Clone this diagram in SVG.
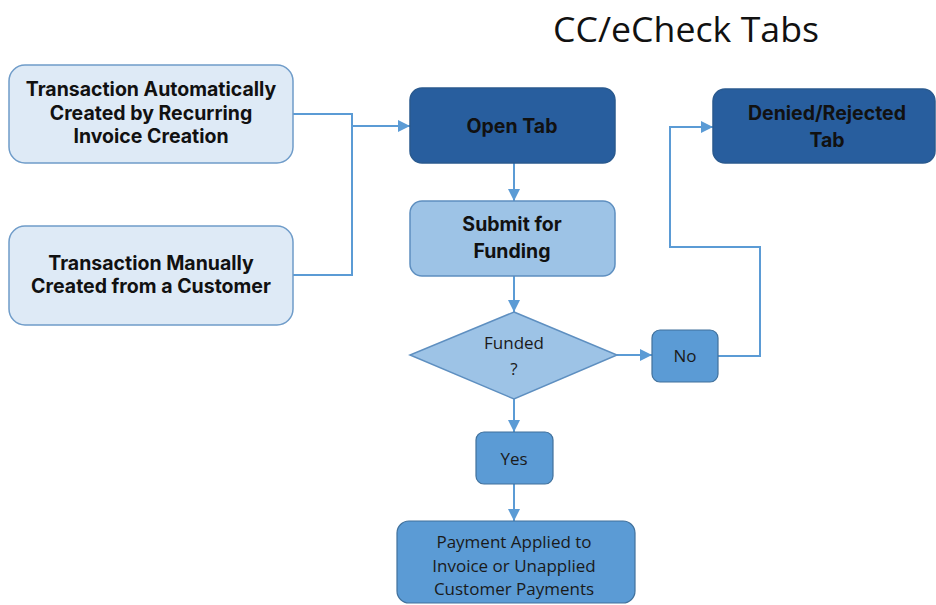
<svg xmlns="http://www.w3.org/2000/svg" width="936" height="605" viewBox="0 0 936 605">
  <defs>
    <marker id="arrow" viewBox="0 0 12 12" refX="12" refY="6" markerWidth="12" markerHeight="12" markerUnits="userSpaceOnUse" orient="auto">
      <path d="M0,0 L12,6 L0,12 Z" fill="#5b9bd5"/>
    </marker>
    <style>
      .pale { fill: #deeaf6; stroke: #6f9cc9; stroke-width: 1.5; }
      .dark { fill: #285e9e; stroke: #2a5a8f; stroke-width: 1.5; }
      .light { fill: #9dc3e6; stroke: #5e8fc0; stroke-width: 1.5; }
      .mid { fill: #5b9bd5; stroke: #41719c; stroke-width: 1.2; }
      .bold { font-family: Inter, "Noto Sans", "Liberation Sans", sans-serif; font-weight: 700; font-size: 19.5px; fill: #111; text-anchor: middle; }
      .reg { font-family: "Open Sans", "Liberation Sans", sans-serif; font-size: 17px; fill: #1a1a1a; text-anchor: middle; }
      .wire { fill: none; stroke: #5b9bd5; stroke-width: 2; }
    </style>
  </defs>

  <rect width="936" height="605" fill="#ffffff"/>

  <text x="686" y="42" font-family="'Open Sans', 'Liberation Sans', sans-serif" font-size="35" fill="#111" text-anchor="middle" textLength="266" lengthAdjust="spacingAndGlyphs">CC/eCheck Tabs</text>

  <g id="connectors">
    <path class="wire" d="M293,114 H352 V275 H293"/>
    <path class="wire" d="M352,126 H410" marker-end="url(#arrow)"/>
    <path class="wire" d="M514,163 V201" marker-end="url(#arrow)"/>
    <path class="wire" d="M514,276 V312" marker-end="url(#arrow)"/>
    <path class="wire" d="M617,355 H652" marker-end="url(#arrow)"/>
    <path class="wire" d="M718,356 H760 V247 H670 V127 H713" marker-end="url(#arrow)"/>
    <path class="wire" d="M514,399 V432" marker-end="url(#arrow)"/>
    <path class="wire" d="M514,484 V521" marker-end="url(#arrow)"/>
  </g>

  <g id="auto-created">
    <rect class="pale" x="9" y="65" width="284" height="98" rx="16"/>
    <text class="bold" x="151" y="96">Transaction Automatically</text>
    <text class="bold" x="151" y="120">Created by Recurring</text>
    <text class="bold" x="151" y="143">Invoice Creation</text>
  </g>

  <g id="manual-created">
    <rect class="pale" x="9" y="226" width="284" height="99" rx="16"/>
    <text class="bold" x="151" y="270">Transaction Manually</text>
    <text class="bold" x="151" y="293">Created from a Customer</text>
  </g>

  <g id="open-tab">
    <rect class="dark" x="410" y="88" width="205" height="75" rx="12"/>
    <text class="bold" x="512" y="133">Open Tab</text>
  </g>

  <g id="denied-tab">
    <rect class="dark" x="713" y="89" width="222" height="74" rx="12"/>
    <text class="bold" x="827" y="120">Denied/Rejected</text>
    <text class="bold" x="827" y="147">Tab</text>
  </g>

  <g id="submit-funding">
    <rect class="light" x="410" y="201" width="205" height="75" rx="12"/>
    <text class="bold" x="512" y="231">Submit for</text>
    <text class="bold" x="512" y="258">Funding</text>
  </g>

  <g id="funded-decision">
    <polygon class="light" points="514,312 617,355 514,399 410,355"/>
    <text class="reg" x="514" y="349">Funded</text>
    <text class="reg" x="514" y="375">?</text>
  </g>

  <g id="no">
    <rect class="mid" x="652" y="330" width="66" height="52" rx="8"/>
    <text class="reg" x="685" y="362">No</text>
  </g>

  <g id="yes">
    <rect class="mid" x="476" y="432" width="77" height="52" rx="8"/>
    <text class="reg" x="514" y="465">Yes</text>
  </g>

  <g id="payment-applied">
    <rect class="mid" x="397" y="521" width="238" height="82" rx="12"/>
    <text class="reg" x="514" y="548">Payment Applied to</text>
    <text class="reg" x="514" y="572">Invoice or Unapplied</text>
    <text class="reg" x="514" y="595">Customer Payments</text>
  </g>
</svg>
